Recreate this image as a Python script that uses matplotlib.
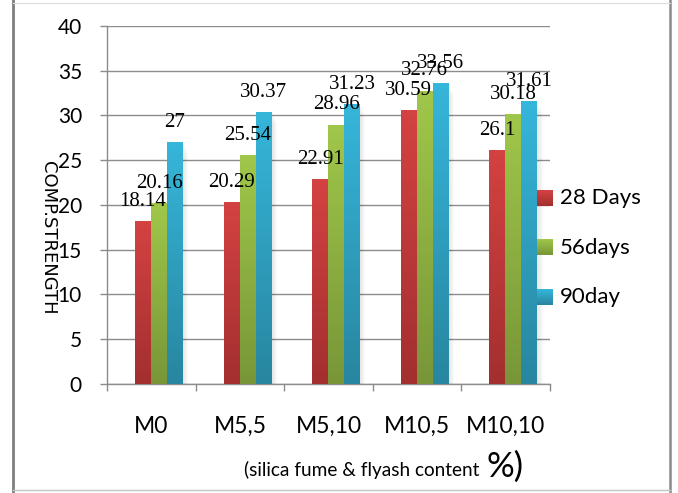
import numpy as np
import matplotlib.pyplot as plt
from matplotlib.colors import LinearSegmentedColormap
from matplotlib.patches import Rectangle
from matplotlib.lines import Line2D

# Data ------------------------------------------
mixes = ['M0', 'M5,5', 'M5,10', 'M10,5', 'M10,10']
series = ['28 Days', '56days', '90day']
days28 = [18.14, 20.29, 22.91, 30.59, 26.1]
days56 = [20.16, 25.54, 28.96, 32.76, 30.18]
days90 = [27, 30.37, 31.23, 33.56, 31.61]
values = [days28, days56, days90]
# (top, bottom) colours of each gradient fill
shades = [('#d44242', '#a32f2f'), ('#a0c74a', '#789638'), ('#36b6da', '#2886a0')]
# -----------------------------------------------
W, H = 678, 493
GRID = '#8c8c8c'

def fx(x):
    return x / W

def fy(y):
    return 1 - y / H

fig = plt.figure(figsize=(W / 100, H / 100), dpi=100)
ax = fig.add_axes([fx(107), fy(383.6), fx(550) - fx(107), fy(26) - fy(383.6)])

def gradient_bar(ax, patch, top, bottom):
    x0, y0 = patch.get_x(), patch.get_y()
    w, h = patch.get_width(), patch.get_height()
    cmap = LinearSegmentedColormap.from_list('fill', [bottom, top])
    grad = np.linspace(0, 1, 128).reshape(-1, 1)
    ax.imshow(grad, extent=(x0, x0 + w, y0, y0 + h), origin='lower',
              aspect='auto', cmap=cmap, zorder=3, interpolation='bilinear')
    patch.set_alpha(0)

x = np.arange(len(mixes))
width = 0.18
shift = 0.087
for k, vals in enumerate(values):
    pos = x + shift + (k - 1) * width
    bars = ax.bar(pos, vals, width, zorder=3)
    for p, v in zip(bars, vals):
        gradient_bar(ax, p, *shades[k])
        ax.annotate(f'{v:g}', (p.get_x() + width / 2, v), xytext=(0, 11),
                    textcoords='offset points', ha='center', va='baseline',
                    family='Liberation Serif', fontsize=15, zorder=5)

# soft shadow to the right of each group
for xi, top in zip(x, days90):
    for j in range(5):
        ax.add_patch(Rectangle((xi + shift + 1.5 * width, 0), 0.012 * (j + 1), top - 0.3 * j,
                               color='k', alpha=0.018, lw=0, zorder=2))

ax.set_xlim(-0.5, len(mixes) - 0.5)
ax.set_ylim(0, 40)
ax.set_yticks(np.arange(0, 41, 5))
ax.set_xticks(np.arange(-0.5, len(mixes)), [])
ax.set_xticks(x, mixes, minor=True)
ax.yaxis.grid(True, color=GRID, lw=1.0, zorder=1)
ax.set_axisbelow(True)
for s in ['top', 'right']:
    ax.spines[s].set_visible(False)
for s in ['left', 'bottom']:
    ax.spines[s].set_color(GRID)
    ax.spines[s].set_linewidth(1.0)
ax.tick_params(axis='y', length=5, color=GRID, width=1.0, pad=13, labelsize=15)
ax.tick_params(axis='x', which='major', length=5, color=GRID, width=1.0)
ax.tick_params(axis='x', which='minor', length=0, pad=23, labelsize=16.5)
for lab in ax.get_yticklabels() + ax.get_xticklabels(minor=True):
    lab.set_family('Lato')

fig.text(fx(48), fy(238), 'COMP.STRENGTH', rotation=270, ha='center', va='center',
         family=['Liberation Sans Narrow', 'DejaVu Sans'], fontsize=13)

# axis title with an oversized percent sign
fig.text(fx(484), fy(476), '(silica fume & flyash content ', ha='right', va='baseline',
         family='Lato', fontsize=13.7)
fig.text(fx(486), fy(477), '%)', ha='left', va='baseline', family='Lato', fontsize=25)

# legend
for k, name in enumerate(series):
    yc = 198 + k * 49.5
    ax_l = fig.add_axes([fx(537), fy(yc + 8), fx(16), 16 / H])
    cmap = LinearSegmentedColormap.from_list('fill', [shades[k][1], shades[k][0]])
    ax_l.imshow(np.linspace(0, 1, 32).reshape(-1, 1), origin='lower', aspect='auto', cmap=cmap)
    ax_l.axis('off')
    fig.text(fx(560), fy(yc), name, ha='left', va='center', family='Lato', fontsize=16)

# frame around the chart
fig.add_artist(Line2D([fx(13), fx(13)], [0, 1], color='#7f7f7f', lw=2))
fig.add_artist(Line2D([fx(670), fx(670)], [0, 1], color='#8a8a8a', lw=1.8))
fig.add_artist(Line2D([fx(13), fx(670)], [fy(3), fy(3)], color='#dcdcdc', lw=0.8))
fig.add_artist(Line2D([fx(13), fx(670)], [fy(490), fy(490)], color='#c4c4c4', lw=1.0))

fig.savefig('out.png', dpi=100)
